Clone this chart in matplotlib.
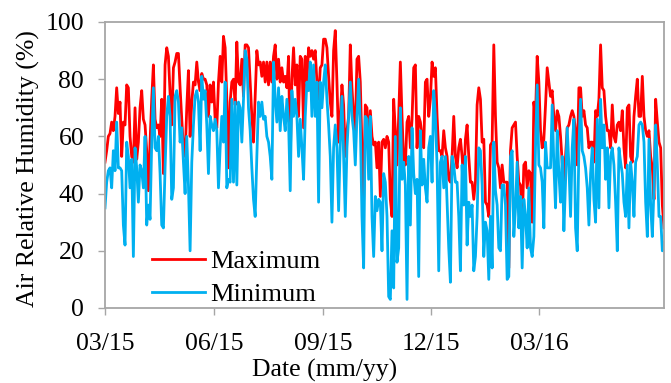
"""
plot.py  -  daily air relative humidity, maximum and minimum
=============================================================
Reads the daily max / min relative humidity series (values read off the
original figure, roughly every 1.4 days) and redraws the Excel-style chart.
"""

import numpy as np
import pandas as pd
import matplotlib
matplotlib.use('Agg')           # non-interactive backend
import matplotlib.pyplot as plt
import matplotlib.dates as mdates


# ═══════════════════════════════════════════════════════════════════════════════
# DATA
# ═══════════════════════════════════════════════════════════════════════════════

START_DATE = '2015-03-01'
END_DATE   = '2016-06-14'

tick_dates  = ['2015-03-01', '2015-06-01', '2015-09-01', '2015-12-01', '2016-03-01']
series_names = ['Maximum', 'Minimum']

# maximum relative humidity (%)
rh_max = [
    51, 55, 60, 61, 65, 62, 67, 77, 68, 72, 53, 65, 64, 78, 77, 60, 53, 51, 70, 52,
    58, 70, 76, 66, 64, 55, 41, 58, 73, 85, 66, 63, 64, 60, 73, 47, 85, 91, 88, 75,
    64, 84, 86, 89, 89, 77, 66, 56, 53, 70, 83, 60, 72, 79, 78, 86, 79,
    76, 82, 80, 80, 78, 67, 78, 72, 79, 66, 63, 79, 88, 79, 95, 91, 73, 49, 72, 79,
    80, 71, 93, 79, 78, 87, 74, 92, 92, 91, 79, 67, 58, 74, 90, 85, 86, 81, 86, 79,
    86, 78, 86, 79, 88, 92, 80, 87, 79, 84, 79, 81, 77, 88, 51, 80, 91,
    78, 85, 67, 88, 87, 63, 88, 79, 91, 88, 90, 87, 90, 79, 73, 84, 85, 94, 94, 91,
    81, 72, 67, 90, 97, 79, 58, 67, 78, 71, 53, 62, 67, 92, 77, 67, 62, 87, 88, 79,
    56, 38, 71, 70, 56, 69, 60, 57, 58, 49, 58, 39, 58, 59, 56, 60, 58,
    38, 32, 73, 62, 50, 67, 86, 67, 51, 50, 65, 67, 56, 66, 84, 85, 56, 67, 65, 60,
    56, 79, 80, 67, 73, 86, 81, 84, 67, 55, 55, 53, 62, 56, 53, 45, 44, 53, 67, 53,
    49, 56, 59, 53, 44, 59, 64, 53, 44, 44, 38, 44, 71, 77, 73, 58, 59,
    37, 36, 32, 57, 58, 92, 67, 51, 49, 42, 50, 44, 44, 44, 14, 55, 63, 64, 65, 53,
    44, 43, 28, 50, 51, 42, 48, 47, 30, 72, 67, 88, 79, 62, 56, 59, 71, 84, 79, 74,
    76, 67, 62, 69, 67, 60, 51, 44, 53, 63, 64, 67, 69, 67, 62, 50, 77,
    77, 67, 69, 64, 63, 56, 58, 58, 51, 69, 67, 73, 92, 77, 76, 67, 62, 62, 56, 71,
    60, 58, 64, 65, 62, 69, 56, 49, 70, 71, 53, 51, 67, 74, 80, 67, 67, 81, 67, 62,
    60, 62, 53, 49, 38, 73, 65, 58, 56, 36, 28,
]

# minimum relative humidity (%)
rh_min = [
    35, 44, 48, 49, 42, 55, 48, 65, 49, 49, 48, 29, 22, 58, 53, 42, 52, 18, 56, 49,
    37, 50, 48, 42, 60, 29, 36, 31, 58, 77, 56, 55, 60, 47, 29, 28, 49, 67, 74, 67,
    38, 42, 74, 76, 72, 58, 63, 51, 40, 60, 43, 20, 51, 64, 74, 76, 72,
    55, 81, 73, 76, 64, 47, 67, 64, 62, 66, 62, 42, 56, 67, 58, 79, 42, 45, 44, 73,
    44, 72, 43, 72, 70, 58, 73, 90, 87, 70, 62, 49, 38, 32, 53, 72, 67, 72, 66, 67,
    60, 58, 53, 45, 86, 73, 65, 77, 62, 74, 67, 62, 73, 65, 41, 76, 67,
    73, 67, 53, 66, 56, 45, 67, 79, 76, 86, 67, 85, 67, 79, 37, 79, 70, 79, 85, 73,
    64, 53, 30, 56, 64, 56, 34, 58, 74, 53, 32, 56, 67, 79, 67, 62, 50, 67, 80, 64,
    32, 14, 67, 66, 45, 67, 32, 18, 39, 34, 38, 37, 20, 47, 44, 32, 4,
    3, 27, 7, 60, 16, 21, 70, 45, 51, 43, 3, 53, 29, 63, 47, 40, 45, 11, 62, 43,
    52, 42, 37, 56, 60, 44, 76, 67, 50, 13, 51, 53, 42, 53, 37, 21, 9, 53, 50, 44,
    44, 32, 13, 50, 36, 53, 22, 37, 32, 36, 13, 18, 32, 56, 55, 43, 18,
    30, 27, 10, 32, 14, 58, 41, 36, 21, 20, 43, 43, 36, 10, 11, 53, 55, 25, 35, 51,
    28, 39, 14, 38, 32, 21, 42, 21, 18, 25, 56, 78, 50, 49, 44, 28, 58, 49, 49, 49,
    71, 50, 35, 62, 47, 37, 53, 27, 44, 63, 50, 32, 56, 66, 28, 20, 56,
    73, 55, 53, 49, 42, 29, 47, 56, 38, 30, 66, 35, 73, 56, 64, 45, 56, 35, 53, 56,
    50, 37, 20, 56, 51, 47, 37, 32, 50, 28, 51, 44, 32, 51, 53, 64, 65, 64, 58, 37,
    25, 59, 36, 25, 42, 64, 50, 32, 32, 20, 23,
]

dates = pd.date_range(START_DATE, END_DATE, periods=len(rh_max))


# ═══════════════════════════════════════════════════════════════════════════════
# PLOT
# ═══════════════════════════════════════════════════════════════════════════════

plt.rcParams['font.family'] = ['Liberation Serif', 'DejaVu Serif']
FS = 18.5
GRAY = '#A6A6A6'

fig = plt.figure(figsize=(6.71, 3.83), dpi=100)
ax = fig.add_axes([105 / 671, 75 / 383, 559 / 671, 286 / 383])

ax.plot(dates, rh_max, color='#FF0000', lw=2, label=series_names[0])
ax.plot(dates, rh_min, color='#00B0F0', lw=2, label=series_names[1])

ax.set_xlim(dates[0], dates[-1])
ax.set_ylim(0, 100)
ax.set_yticks(np.arange(0, 101, 20))
ax.set_xticks(pd.to_datetime(tick_dates))
ax.xaxis.set_major_formatter(mdates.DateFormatter('%m/%y'))

for sp in ax.spines.values():
    sp.set_color(GRAY)
    sp.set_linewidth(1.3)
ax.tick_params(axis='both', direction='out', length=5, width=1,
               color=GRAY, labelsize=FS, labelcolor='black')
ax.tick_params(axis='y', pad=10)
ax.tick_params(axis='x', pad=13)

# axis titles placed in figure coords to match the original layout
fig.text(28 / 671, 1 - 169 / 383, 'Air Relative Humidity (%)', rotation=90,
         ha='center', va='center', fontsize=FS)
fig.text(325 / 671, 1 - 370 / 383, 'Date (mm/yy)', ha='center', va='center',
         fontsize=FS)

ax.legend(loc='upper left', bbox_to_anchor=(152 / 671, 1 - 250 / 383),
          bbox_transform=fig.transFigure, frameon=False, fontsize=19,
          borderpad=0, borderaxespad=0, handlelength=2.0,
          handletextpad=0.2, labelspacing=0.36)

plt.savefig('out.png', dpi=100)
plt.close()
